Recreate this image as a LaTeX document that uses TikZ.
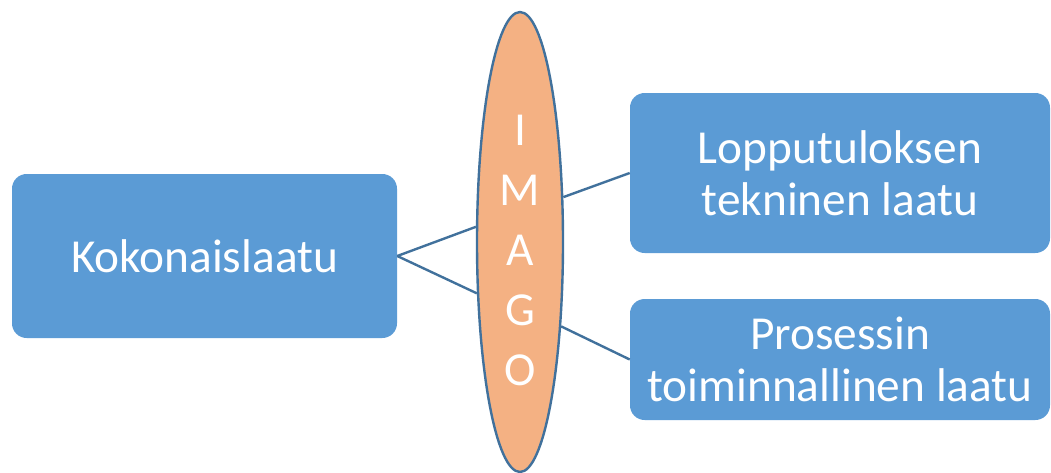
\documentclass[tikz,border=0pt]{standalone}
\usepackage{fontspec}
\setmainfont{Carlito}
\definecolor{myBoxFill}{RGB}{91,155,213}
\definecolor{myLineBlue}{RGB}{65,113,156}
\definecolor{myOvalFill}{RGB}{244,177,131}
\usetikzlibrary{shapes.geometric}

\begin{document}
\begin{tikzpicture}[x=0.75pt, y=-0.75pt,
  box/.style={fill=myBoxFill, rounded corners=11pt, align=center, text=white,
              inner sep=0pt, font=\fontsize{35.5}{39}\selectfont},
  oval/.style={ellipse, draw=myLineBlue, line width=1.8pt, fill=myOvalFill, inner sep=0pt,
               align=center, text=white, font=\fontsize{35.5}{45}\selectfont},
  lnk/.style={myLineBlue, line width=1.8pt}]
  \useasboundingbox (0,0) rectangle (1051,472);
  \node[box, minimum width=288.75pt, minimum height=123pt] (kok) at (204.5,256) {Kokonaislaatu};
  \node[oval, minimum width=64.5pt, minimum height=345pt] (imago) at (520,242)
       {\rule{0pt}{36pt}I\\M\\A\\G\\O};
  \node[box, minimum width=315pt, minimum height=120pt] (tek) at (840,173) {Lopputuloksen\\tekninen laatu};
  \node[box, minimum width=315pt, minimum height=90.75pt] (pro) at (840,359.5) {Prosessin\\toiminnallinen laatu};
  \draw[lnk] (kok.east) -- (imago.161);
  \draw[lnk] (kok.east) -- (imago.230);
  \draw[lnk] (imago.46) -- (tek.west);
  \draw[lnk] (imago.296) -- (pro.west);
\end{tikzpicture}
\end{document}
